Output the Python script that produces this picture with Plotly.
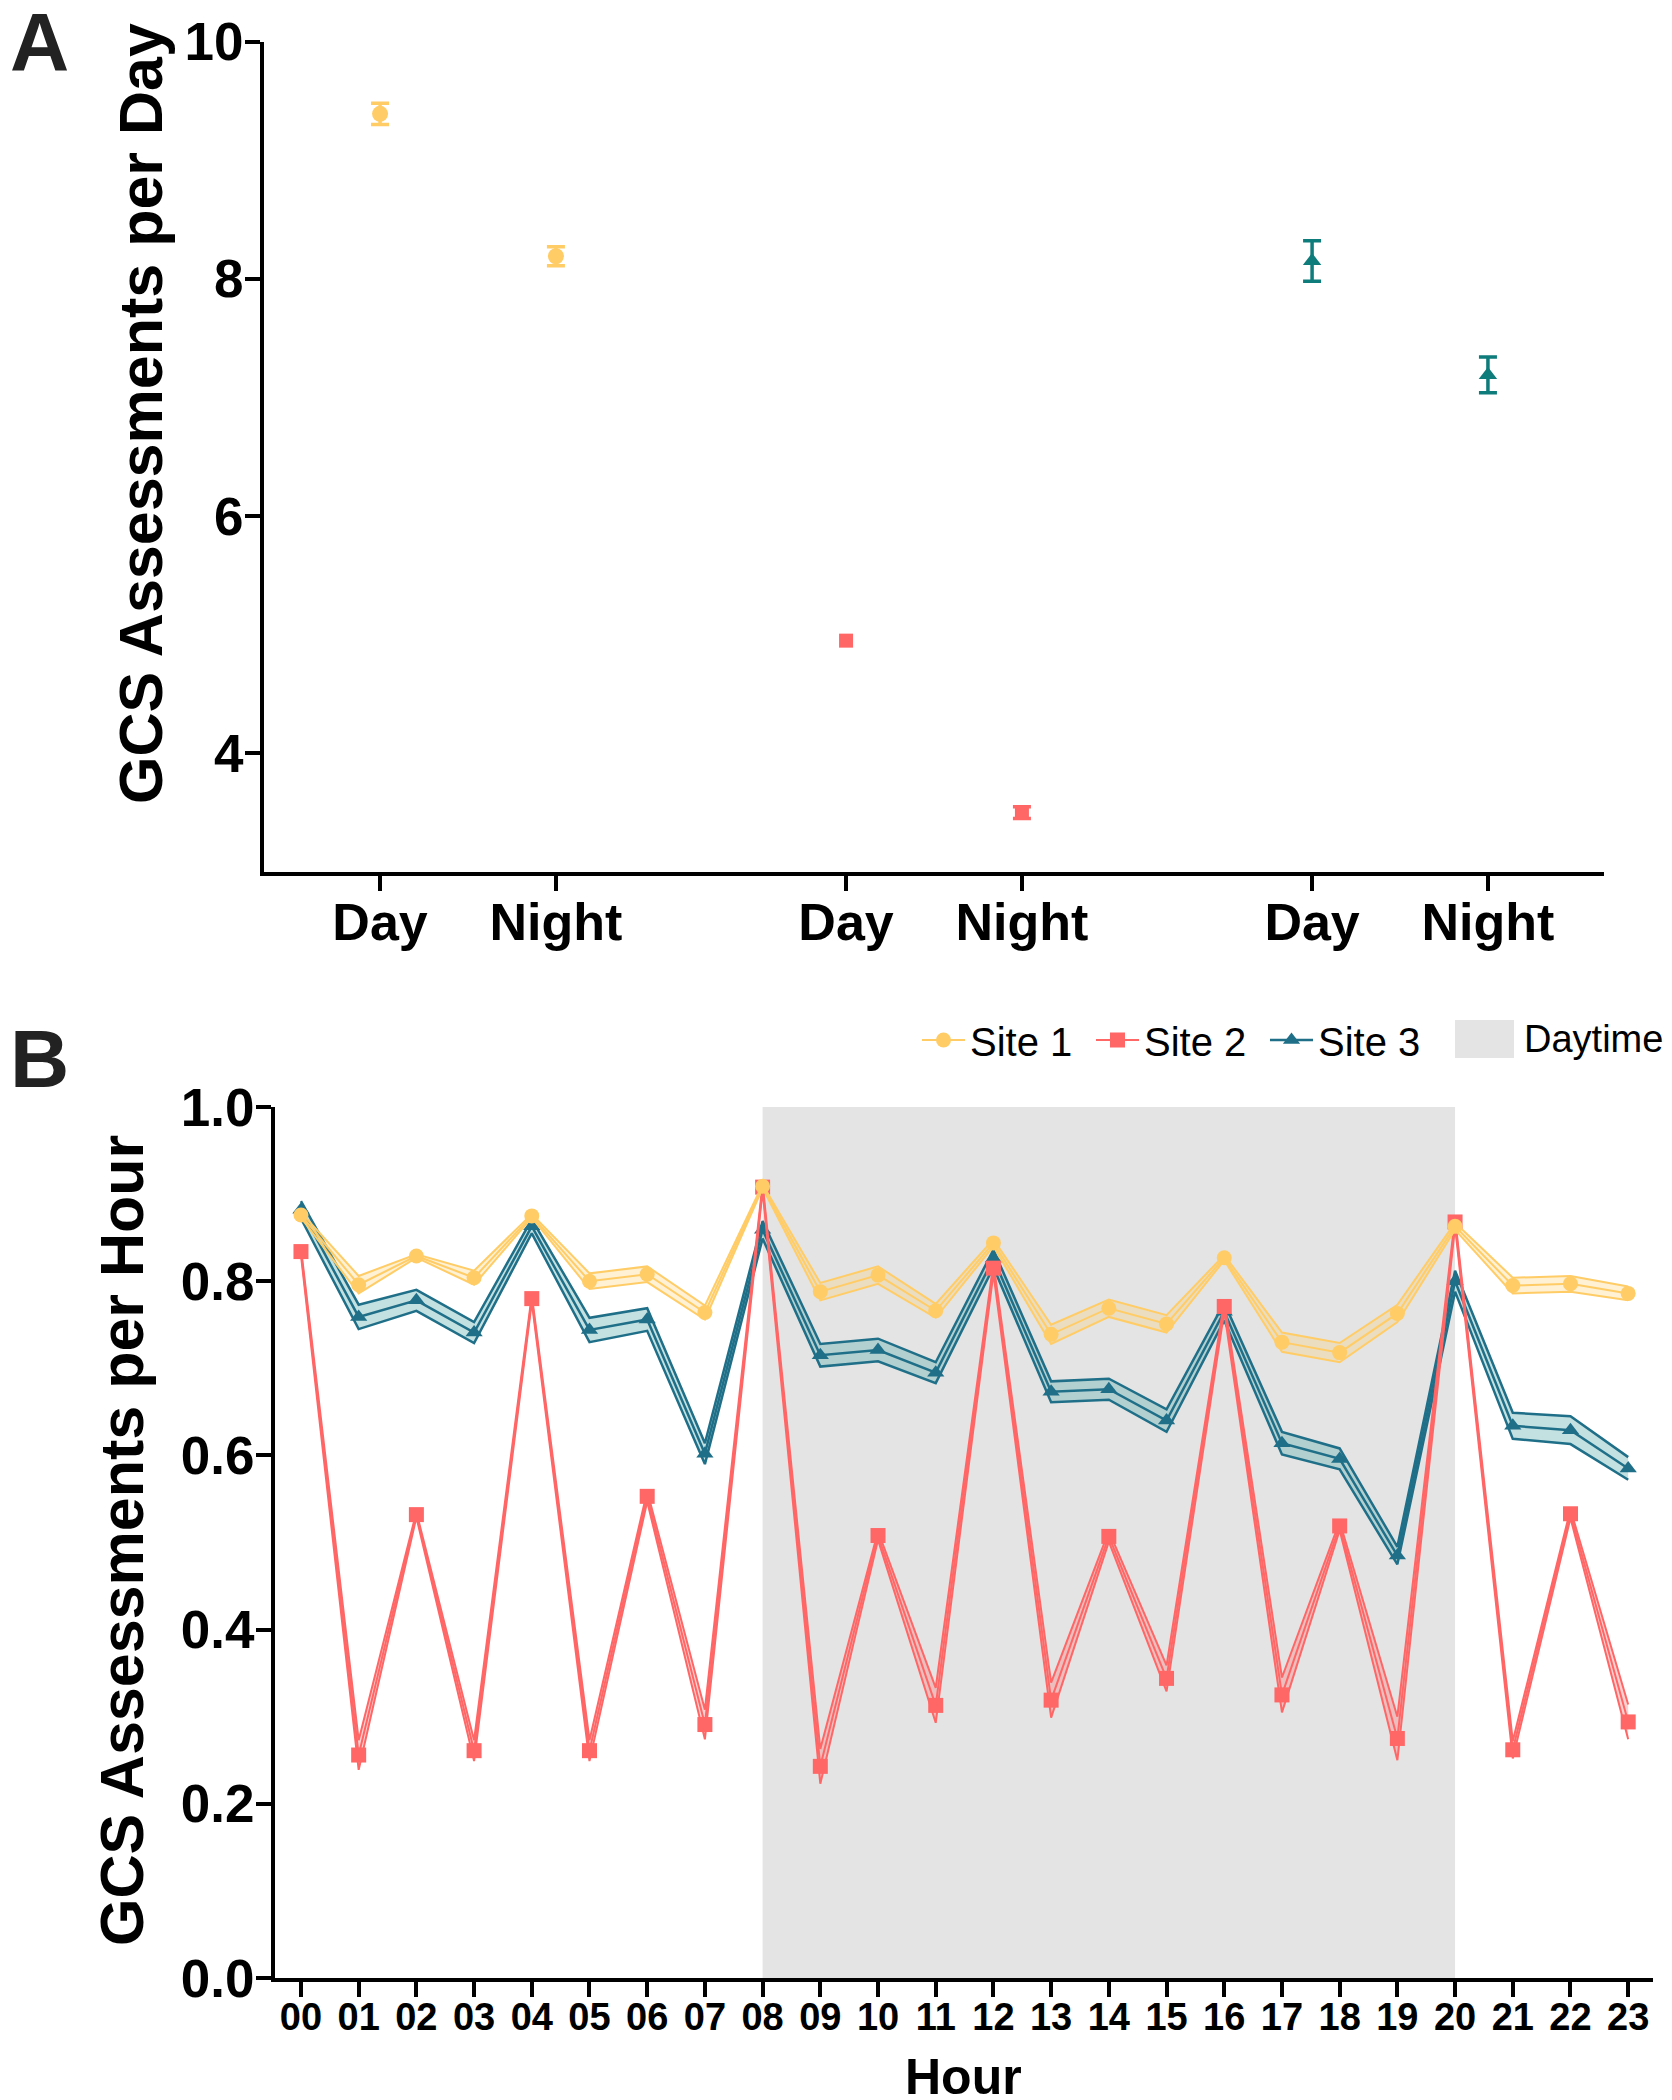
import plotly.graph_objects as go

# ---- Panel A: GCS assessments per day (mean +/- SEM) ----
periods = ["Day", "Night"]
site1_daily = [9.39, 8.19]
site1_daily_err = [0.09, 0.08]
site2_daily = [4.95, 3.50]
site2_daily_err = [None, 0.05]   # day bar is hidden behind the marker
site3_daily = [8.15, 7.19]
site3_daily_err = [0.17, 0.15]

# ---- Panel B: GCS assessments per hour (mean +/- SEM) ----
hour_labels = ["00", "01", "02", "03", "04", "05", "06", "07", "08", "09", "10", "11",
               "12", "13", "14", "15", "16", "17", "18", "19", "20", "21", "22", "23"]
site1_hourly = [0.876, 0.796, 0.829, 0.804, 0.875, 0.800, 0.808, 0.764, 0.909, 0.788, 0.807, 0.766,
                0.844, 0.739, 0.769, 0.751, 0.827, 0.730, 0.718, 0.763, 0.863, 0.795, 0.797, 0.786]
site1_hourly_err = [0.003, 0.010, 0.002, 0.008, 0.002, 0.009, 0.009, 0.008, 0.002, 0.010, 0.010, 0.008,
                    0.004, 0.011, 0.010, 0.010, 0.003, 0.011, 0.011, 0.010, 0.004, 0.009, 0.009, 0.008]
site2_hourly = [0.834, 0.256, 0.532, 0.261, 0.780, 0.261, 0.553, 0.291, 0.908, 0.243, 0.508, 0.313,
                0.815, 0.319, 0.507, 0.344, 0.771, 0.325, 0.519, 0.275, 0.868, 0.262, 0.533, 0.294]
site2_hourly_err = [0.004, 0.017, 0.003, 0.012, 0.004, 0.012, 0.006, 0.017, 0.004, 0.020, 0.005, 0.020,
                    0.006, 0.020, 0.006, 0.015, 0.006, 0.020, 0.005, 0.025, 0.005, 0.010, 0.005, 0.020]
site3_hourly = [0.882, 0.759, 0.778, 0.741, 0.863, 0.744, 0.756, 0.602, 0.859, 0.715, 0.721, 0.695,
                0.826, 0.673, 0.676, 0.640, 0.765, 0.614, 0.596, 0.485, 0.800, 0.634, 0.629, 0.585]
site3_hourly_err = [0.010, 0.014, 0.012, 0.012, 0.008, 0.014, 0.013, 0.012, 0.010, 0.013, 0.013, 0.012,
                    0.010, 0.012, 0.012, 0.013, 0.010, 0.013, 0.012, 0.010, 0.012, 0.015, 0.016, 0.013]
daytime_hours = [8, 20]

YELLOW = "#FFCC66"
RED = "#FF6666"
TEAL_A = "#0E7C7B"
TEAL_B = "#1F6F88"
DAY_GREY = "#E4E4E4"
FONT = "Arial, Liberation Sans, sans-serif"

# page has an 8px body margin, so lay things out in page pixels and convert
OFF = 8
W, H = 1672 - OFF, 2100 - OFF


def px(x):
    return (x - OFF) / W


def py(y):
    return 1 - (y - OFF) / H


fig = go.Figure()

# panel A: three groups of Day/Night with a gap between the groups
group_gap = 2.65
daily_sets = [
    (site1_daily, site1_daily_err, YELLOW, "circle", 16),
    (site2_daily, site2_daily_err, RED, "square", 14),
    (site3_daily, site3_daily_err, TEAL_A, "triangle-up", 16),
]
tick_x, tick_text = [], []
for g, (vals, errs, col, sym, msize) in enumerate(daily_sets):
    for k, (v, e) in enumerate(zip(vals, errs)):
        x = g * group_gap + k
        tick_x.append(x)
        tick_text.append(periods[k])
        fig.add_trace(go.Scatter(
            x=[x], y=[v], mode="markers", showlegend=False,
            marker=dict(color=col, symbol=sym, size=msize),
            error_y=dict(type="data", array=[e or 0], visible=e is not None,
                         color=col, thickness=3.5, width=9),
            xaxis="x", yaxis="y",
        ))

# panel B: daytime shading
hrs = list(range(len(hour_labels)))
fig.add_trace(go.Scatter(
    x=[daytime_hours[0], daytime_hours[1], daytime_hours[1], daytime_hours[0]],
    y=[0, 0, 1, 1], fill="toself", fillcolor=DAY_GREY, mode="lines",
    line=dict(width=0, color=DAY_GREY), showlegend=False,
    xaxis="x2", yaxis="y2", hoverinfo="skip",
))

hourly_sets = [
    ("Site 3", site3_hourly, site3_hourly_err, TEAL_B, "rgba(100,175,180,0.38)", "triangle-up", 3, 2.5),
    ("Site 2", site2_hourly, site2_hourly_err, RED, "rgba(255,102,102,0.3)", "square", 2, 2),
    ("Site 1", site1_hourly, site1_hourly_err, YELLOW, "rgba(255,204,102,0.28)", "circle", 1, 2),
]
for name, vals, errs, col, fillcol, sym, rank, lw in hourly_sets:
    upper = [v + e for v, e in zip(vals, errs)]
    lower = [v - e for v, e in zip(vals, errs)]
    fig.add_trace(go.Scatter(x=hrs, y=upper, mode="lines", line=dict(color=col, width=lw),
                             showlegend=False, xaxis="x2", yaxis="y2"))
    fig.add_trace(go.Scatter(x=hrs, y=lower, mode="lines", line=dict(color=col, width=lw),
                             fill="tonexty", fillcolor=fillcol,
                             showlegend=False, xaxis="x2", yaxis="y2"))
    fig.add_trace(go.Scatter(x=hrs, y=vals, mode="lines+markers", name=name, legendrank=rank,
                             line=dict(color=col, width=lw),
                             marker=dict(color=col, symbol=sym, size=15),
                             xaxis="x2", yaxis="y2"))

axis_common = dict(
    showline=True, linecolor="black", linewidth=4, mirror=False,
    ticks="outside", ticklen=15, tickwidth=4, tickcolor="black",
    showgrid=False, zeroline=False, automargin=False,
    tickfont=dict(family=FONT, size=53, color="black", weight="bold"),
)
title_font = dict(family=FONT, size=61, color="black", weight="bold")
label_font = dict(family=FONT, size=82, color="#222222", weight="bold")

fig.update_layout(
    width=W, height=H,
    margin=dict(l=0, r=0, t=0, b=0),
    paper_bgcolor="white", plot_bgcolor="white",
    font=dict(family=FONT, color="black"),
    xaxis=dict(axis_common, domain=[px(264), px(1604)], anchor="y",
               range=[-0.66, 6.96], tickvals=tick_x, ticktext=tick_text, ticklabelstandoff=-13,
               tickfont=dict(family=FONT, size=52, color="black", weight="bold")),
    yaxis=dict(axis_common, domain=[py(872), py(41.5)], anchor="x",
               range=[3, 10], tickvals=[4, 6, 8, 10], ticklabelstandoff=-9),
    xaxis2=dict(axis_common, domain=[px(275), px(1653)], anchor="y2",
                range=[-0.45, 23.43], tickvals=hrs, ticktext=hour_labels, ticklabelstandoff=-13,
                tickfont=dict(family=FONT, size=38, color="black", weight="bold")),
    yaxis2=dict(axis_common, domain=[py(1978), py(1107)], anchor="x2",
                range=[0, 1.0], tickvals=[0, 0.2, 0.4, 0.6, 0.8, 1.0], tickformat=".1f",
                ticklabelstandoff=-9),
    legend=dict(orientation="h", x=px(917), xanchor="left", y=py(1040), yanchor="middle",
                font=dict(family=FONT, size=40, color="black"), bgcolor="rgba(0,0,0,0)",
                traceorder="normal", itemwidth=43, entrywidth=116),
    shapes=[
        # legend key for the daytime shading
        dict(type="rect", xref="paper", yref="paper", x0=px(1455), x1=px(1514),
             y0=py(1058), y1=py(1020), fillcolor=DAY_GREY, line=dict(width=0)),
    ],
    annotations=[
        dict(text="A", x=px(8), y=py(-6), xref="paper", yref="paper", xanchor="left", yanchor="top",
             showarrow=False, font=label_font),
        dict(text="B", x=px(8), y=py(1011), xref="paper", yref="paper", xanchor="left", yanchor="top",
             showarrow=False, font=label_font),
        dict(text="GCS Assessments per Day", textangle=-90, x=px(141), y=py(414),
             xref="paper", yref="paper", xanchor="center", yanchor="middle",
             showarrow=False, font=title_font),
        dict(text="GCS Assessments per Hour", textangle=-90, x=px(122), y=py(1541),
             xref="paper", yref="paper", xanchor="center", yanchor="middle",
             showarrow=False, font=title_font),
        dict(text="Hour", x=px(964), y=py(2077), xref="paper", yref="paper",
             xanchor="center", yanchor="middle", showarrow=False,
             font=dict(family=FONT, size=50, color="black", weight="bold")),
        dict(text="Daytime", x=px(1522), y=py(1039), xref="paper", yref="paper",
             xanchor="left", yanchor="middle", showarrow=False,
             font=dict(family=FONT, size=38, color="black")),
    ],
)

fig.write_html("out.html")
